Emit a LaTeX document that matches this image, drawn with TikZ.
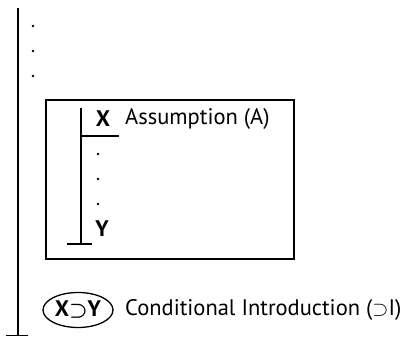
\documentclass[tikz,border=0pt]{standalone}
\usepackage{amsmath,amssymb}
\usepackage{fontspec}
\setmainfont{PT Sans}
\usetikzlibrary{shapes.geometric}

\begin{document}
\begin{tikzpicture}[x=1pt,y=-1pt]
		\tikzset{proofline/.style={line width=1.5pt},
			ruletext/.style={anchor=west,inner sep=0pt,font=\fontsize{22.5}{26}\selectfont},
			formula/.style={inner sep=0pt,font=\fontsize{22.5}{26}\selectfont\bfseries}}
		\useasboundingbox (0,0) rectangle (410,337);
		
		\coordinate (top) at (18,8);
		\coordinate (bot) at (18,335.5);
		\coordinate (footL) at (6,335.5);
		\coordinate (footR) at (28,335.5);
		\draw[proofline] (top) -- (bot);
		\draw[proofline] (footL) -- (footR);
		
		\foreach \y in {26,51,76}
			\fill (33,\y) circle (1.4pt);
		
		\draw[line width=1.3pt] (46,100) rectangle (294,259);
		
		\coordinate (subtop) at (81,108);
		\coordinate (subbot) at (81,244);
		\coordinate (subL) at (67,244);
		\coordinate (subR) at (92,244);
		\coordinate (barL) at (81,136);
		\coordinate (barR) at (119,136);
		\draw[proofline] (subtop) -- (subbot);
		\draw[proofline] (subL) -- (subR);
		\draw[line width=1.2pt] (barL) -- (barR);
		
		\node[formula] (X) at (103,119) {X};
		\node[ruletext] (assume) at (125,119) {Assumption (A)};
		
		\foreach \y in {154,179,204}
			\fill (98,\y) circle (1.3pt);
		
		\node[formula] (Y) at (102,229) {Y};
		
		\node[formula,draw,ellipse,line width=1.3pt,minimum width=70pt,minimum height=35pt] (concl) at (78,310) {X$\boldsymbol{\supset}$Y};
		\node[ruletext] (rule) at (125,310) {Conditional Introduction ($\supset$I)};
		
	\end{tikzpicture}
\end{document}
